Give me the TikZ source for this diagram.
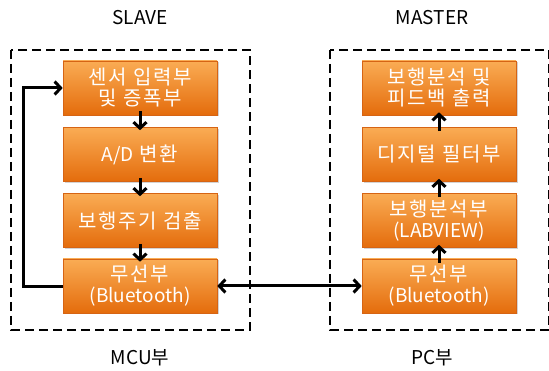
\documentclass[tikz,border=0pt]{standalone}
\usepackage{fontspec}
\setmainfont{Noto Sans CJK KR}
\newfontfamily\hangulwide[LetterSpace=8]{Noto Sans CJK KR}
\usetikzlibrary{arrows.meta,shadows}
\definecolor{boxtop}{RGB}{250,172,84}
\definecolor{boxbot}{RGB}{228,108,12}
\definecolor{boxedge}{RGB}{214,100,20}
\newcommand{\lat}[1]{{\normalfont\fontsize{19}{21}\selectfont #1}}
\tikzset{
  block/.style={minimum width=154pt, minimum height=54pt, inner sep=0pt,
    top color=boxtop, bottom color=boxbot, draw=boxedge, line width=0.6pt,
    text=white, font=\hangulwide\fontsize{20}{21}\selectfont, align=center,
    drop shadow={shadow xshift=1.5pt, shadow yshift=-1.5pt, opacity=0.35}},
  frame/.style={draw=black, line width=2.4pt, dash pattern=on 9pt off 5pt},
  barb/.tip={Straight Barb[length=6pt,width=13pt]},
  flow/.style={line width=3pt, -barb},
  step link/.style={flow, shorten <=-4pt, shorten >=-3pt},
  caption/.style={font=\fontsize{19}{21}\selectfont}
}
\begin{document}
\begin{tikzpicture}[x=1pt,y=-1pt]
\useasboundingbox (0,0) rectangle (549,371);
% dashed enclosures
\draw[frame] (11,50) rectangle (250,330);
\draw[frame] (330,50) rectangle (549,330);
% titles
\node[caption] (slave) at (140,18) {SLAVE};
\node[caption] (master) at (432,18) {MASTER};
\node[caption] (mcu) at (140,358) {MCU부};
\node[caption] (pc) at (432,358) {PC부};
% slave side
\node[block] (s1) at (140,88) {센서 입력부\\및 증폭부};
\node[block] (s2) at (140,154.5) {\lat{A/D} 변환};
\node[block] (s3) at (140,220.5) {보행주기 검출};
\node[block] (s4) at (140,286) {무선부\\\lat{(Bluetooth)}};
% master side
\node[block] (m1) at (439,88) {보행분석 및\\피드백 출력};
\node[block] (m2) at (439,154.5) {디지털 필터부};
\node[block] (m3) at (439,220.5) {보행분석부\\\lat{(LABVIEW)}};
\node[block] (m4) at (439,286) {무선부\\\lat{(Bluetooth)}};
% connections
\draw[step link] (s1) -- (s2);
\draw[step link] (s2) -- (s3);
\draw[step link] (s3) -- (s4);
\draw[step link] (m4) -- (m3);
\draw[step link] (m3) -- (m2);
\draw[step link] (m2) -- (m1);
\coordinate (fbl) at (23,287);
\coordinate (fbt) at (23,88);
\draw[flow] (s4.west |- fbl) -- (fbl) -- (fbt) -- (s1.west);
\draw[line width=3pt, barb-barb] (s4.east) -- (m4.west);
\end{tikzpicture}
\end{document}
